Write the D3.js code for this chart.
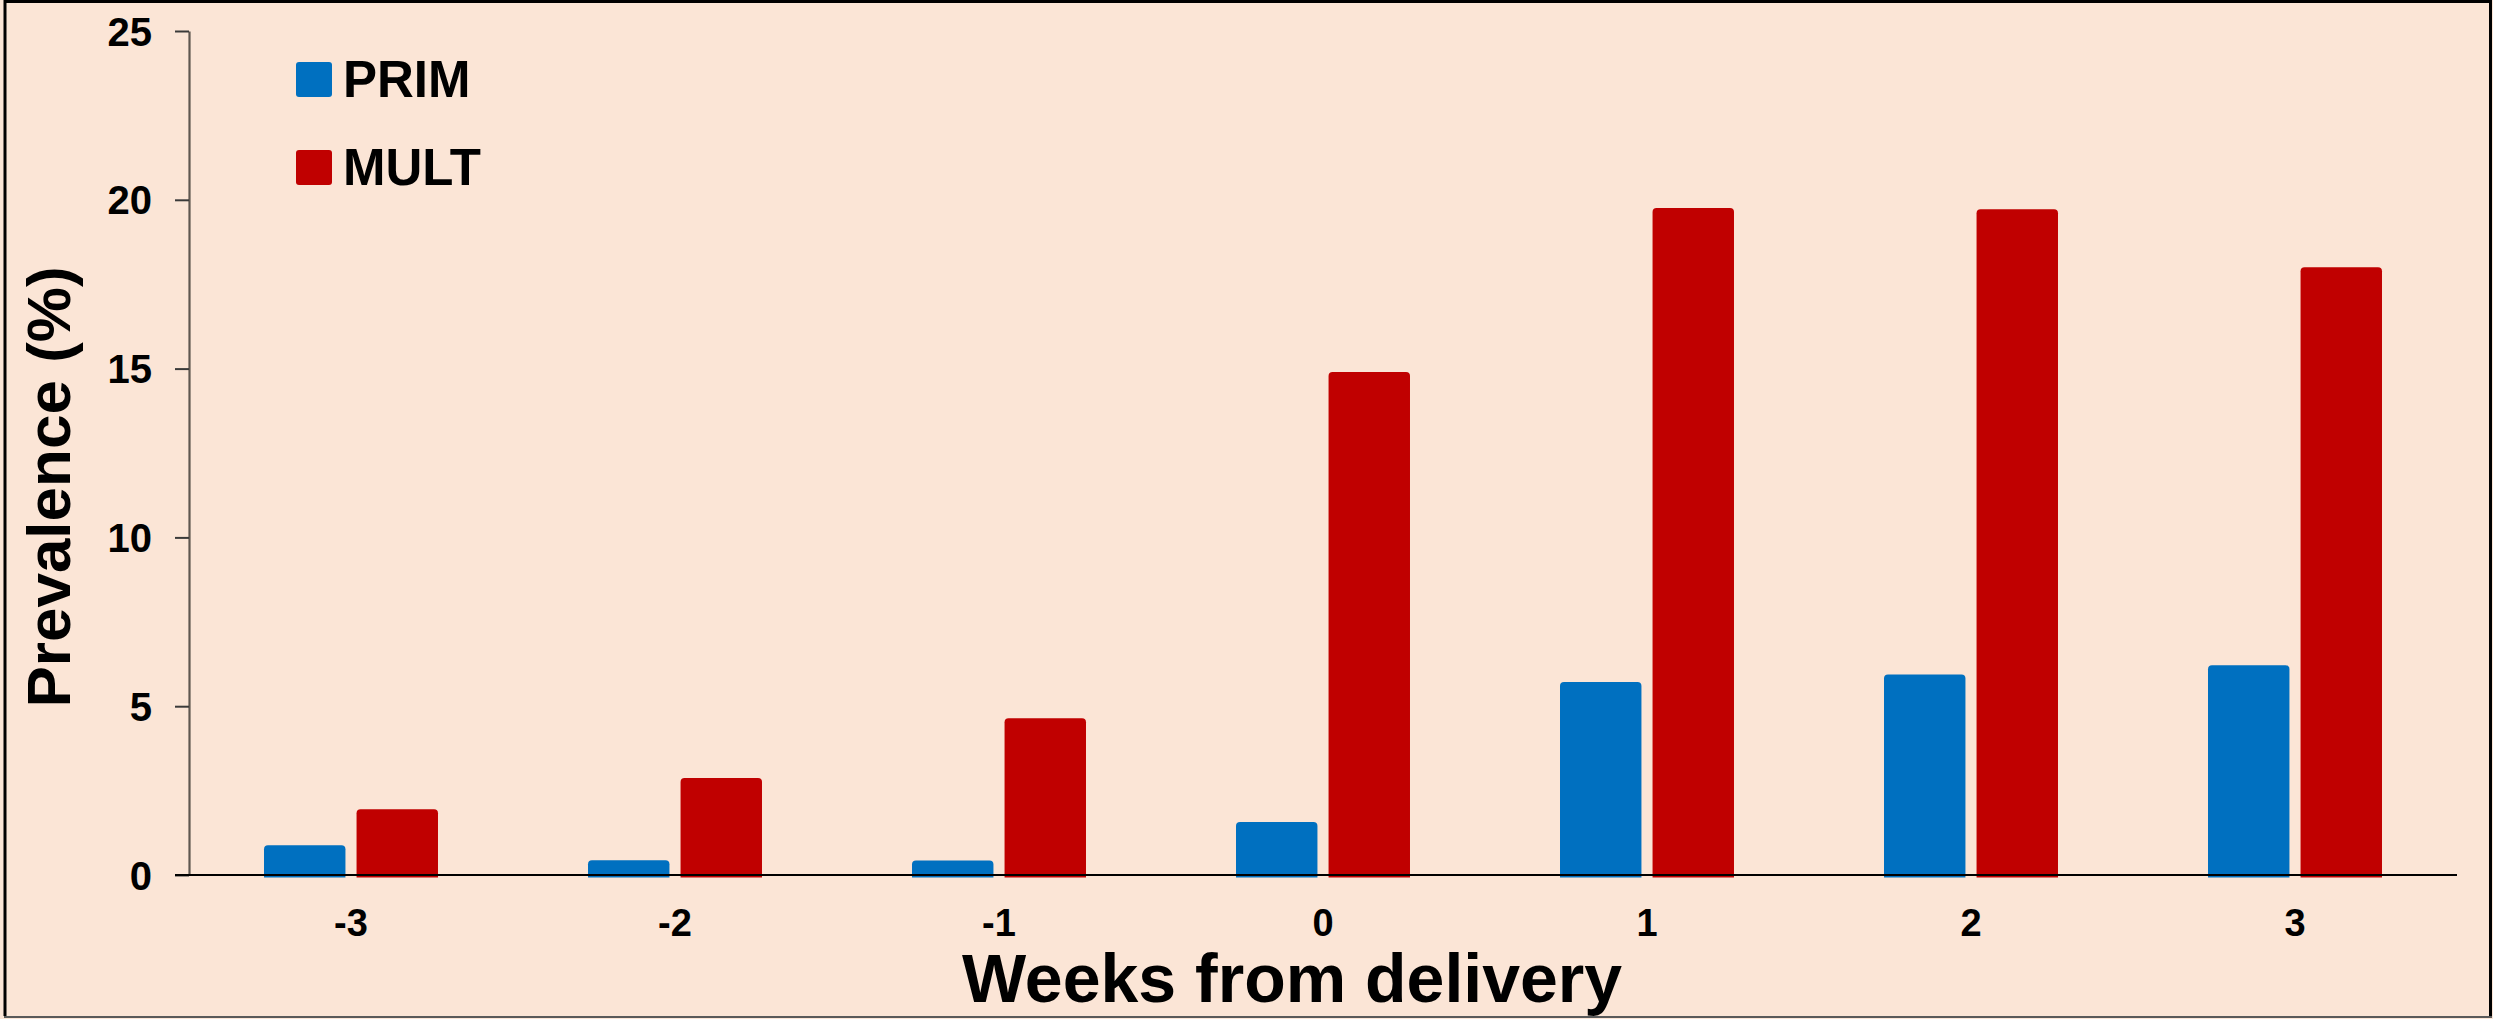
<!DOCTYPE html>
<html>
<head>
<meta charset="utf-8">
<script src="https://cdn.jsdelivr.net/npm/d3@7"></script>
<style>
  html, body { margin: 0; padding: 0; background: #FBE5D6; }
  svg { display: block; }
  text { font-family: "Liberation Sans", Arial, sans-serif; font-weight: bold; fill: #000; }
</style>
</head>
<body>
<svg id="chart" width="2493" height="1019"></svg>
<script>
// Weeks relative to delivery
const weeks = ["-3", "-2", "-1", "0", "1", "2", "3"];
// Series names and colours
const seriesNames = ["PRIM", "MULT"];
const seriesColors = ["#0070C0", "#C00000"];
// Prevalence (%) per week
const primValues = [0.88, 0.44, 0.43, 1.57, 5.72, 5.94, 6.21];
const multValues = [1.95, 2.87, 4.64, 14.9, 19.76, 19.72, 18.0];
// Y axis ticks
const yTicks = [0, 5, 10, 15, 20, 25];

const W = 2493, H = 1019;
const margin = { left: 189, right: 36, top: 31, bottom: 144 };
const svg = d3.select("#chart");

// page background and frame
svg.append("rect").attr("x", 0).attr("y", 0).attr("width", W).attr("height", H).attr("fill", "#FBE5D6");
svg.append("path")
  .attr("d", `M5,1016 L5,1.5 L2490.5,1.5 L2490.5,1016`)
  .attr("fill", "none").attr("stroke", "#000").attr("stroke-width", 3);
svg.append("line").attr("x1", 4).attr("x2", 2492).attr("y1", 1017).attr("y2", 1017)
  .attr("stroke", "#5a5a5a").attr("stroke-width", 2);

const x0 = d3.scaleBand()
  .domain(weeks)
  .range([margin.left, W - margin.right])
  .paddingInner(0.463)
  .paddingOuter(0.2315);

const x1 = d3.scaleBand()
  .domain(seriesNames)
  .range([0, x0.bandwidth()])
  .paddingInner(0.12);

const y = d3.scaleLinear().domain([0, 25]).range([H - margin.bottom, margin.top]);

const rows = weeks.map((w, i) => ({ week: w, values: [primValues[i], multValues[i]] }));

// bars with slightly rounded top corners
function barPath(x, w, yTop, yBottom, r) {
  r = Math.min(r, (yBottom - yTop) / 2, w / 2);
  return `M${x},${yBottom} L${x},${yTop + r} Q${x},${yTop} ${x + r},${yTop}` +
         ` L${x + w - r},${yTop} Q${x + w},${yTop} ${x + w},${yTop + r} L${x + w},${yBottom} Z`;
}

const groups = svg.append("g").selectAll("g")
  .data(rows).join("g")
  .attr("transform", d => `translate(${x0(d.week)},0)`);

groups.selectAll("path")
  .data(d => d.values.map((v, k) => ({ name: seriesNames[k], value: v, k })))
  .join("path")
  .attr("d", d => barPath(x1(d.name), x1.bandwidth(), y(d.value), y(0) + 2.5, 4))
  .attr("fill", d => seriesColors[d.k]);

// y axis
const yAxis = svg.append("g")
  .attr("transform", `translate(${margin.left},0)`)
  .call(d3.axisLeft(y).tickValues(yTicks).tickSize(14).tickPadding(23).tickSizeOuter(0));
yAxis.select(".domain").attr("stroke", "#5f5750").attr("stroke-width", 2.2);
yAxis.selectAll(".tick line").attr("stroke", "#3a3a3a").attr("stroke-width", 2);
yAxis.selectAll(".tick text")
  .attr("font-size", 40).attr("font-family", "Liberation Sans, Arial, sans-serif")
  .attr("font-weight", "bold").attr("fill", "#000").attr("dy", "0.35em");

// x axis baseline and labels
const xAxis = svg.append("g")
  .attr("transform", `translate(0,${y(0)})`)
  .call(d3.axisBottom(x0).tickSize(0).tickPadding(34).tickSizeOuter(0));
xAxis.select(".domain").remove();
svg.append("line")
  .attr("x1", margin.left - 14).attr("x2", W - margin.right)
  .attr("y1", y(0)).attr("y2", y(0))
  .attr("stroke", "#000").attr("stroke-width", 2.2);
xAxis.selectAll(".tick text")
  .attr("font-size", 38).attr("font-family", "Liberation Sans, Arial, sans-serif")
  .attr("font-weight", "bold").attr("fill", "#000").attr("dy", "0.71em");

// axis titles
svg.append("text")
  .attr("x", 1292).attr("y", 1002)
  .attr("text-anchor", "middle").attr("font-size", 68)
  .text("Weeks from delivery");

svg.append("text")
  .attr("transform", "translate(70,487) rotate(-90)")
  .attr("text-anchor", "middle").attr("font-size", 62)
  .text("Prevalence (%)");

// legend
const legend = svg.append("g");
seriesNames.forEach((name, k) => {
  const yy = 62 + k * 88;
  legend.append("rect")
    .attr("x", 296).attr("y", yy).attr("width", 36).attr("height", 35)
    .attr("rx", 3).attr("fill", seriesColors[k]);
  legend.append("text")
    .attr("x", 343).attr("y", yy + 35)
    .attr("font-size", 51)
    .text(name);
});
</script>
</body>
</html>
